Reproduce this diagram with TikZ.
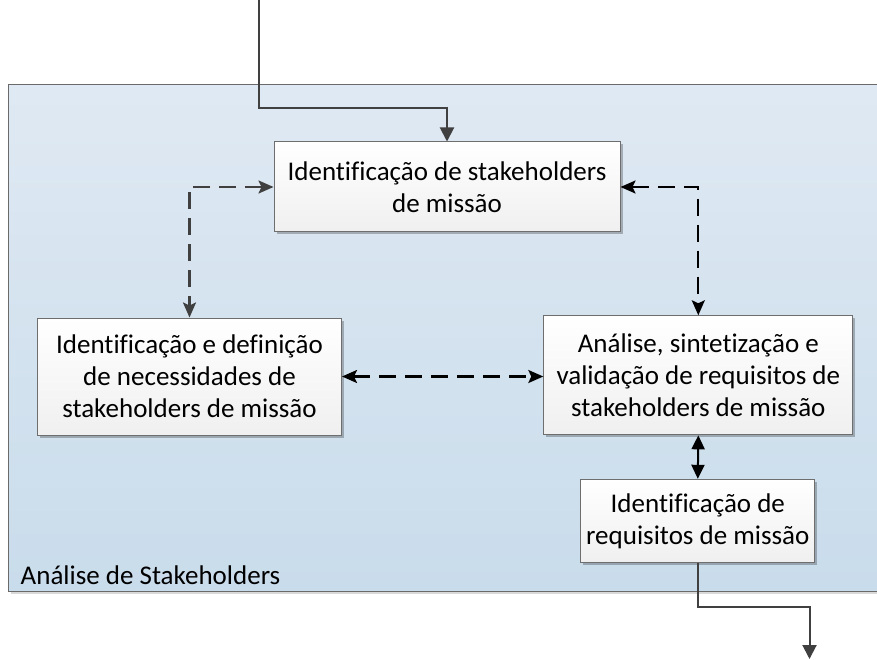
\documentclass[tikz,border=0pt]{standalone}
\usepackage{fontspec}
\setmainfont{Carlito}[Ligatures=NoCommon]
\usetikzlibrary{arrows.meta,shadows}
\definecolor{boxborder}{HTML}{6E6E6E}
\definecolor{linegray}{HTML}{404040}
\definecolor{contTop}{HTML}{DFE9F3}
\definecolor{contBot}{HTML}{C9DCEB}
\definecolor{contBorder}{HTML}{6A6A6A}
\tikzset{
  procbox/.style={draw=boxborder, line width=1pt, top color=white, bottom color=black!6,
    align=center, inner sep=2pt, font=\fontsize{27}{32}\selectfont,
    drop shadow={shadow xshift=2.5pt, shadow yshift=-2.5pt, opacity=0.25, fill=black}},
  flow/.style={draw=linegray, line width=2pt, -{Triangle[length=14pt,width=14pt]}},
  dashlink/.style={line width=2.2pt, dash pattern=on 17pt off 9pt,
    {Stealth[length=15pt,width=13pt,inset=3pt]}-{Stealth[length=15pt,width=13pt,inset=3pt]}},
  solidlink/.style={line width=2pt,
    {Triangle[length=14pt,width=13pt]}-{Triangle[length=14pt,width=13pt]}}
}
\begin{document}
\begin{tikzpicture}[x=1pt,y=-1pt]
\useasboundingbox (0,0) rectangle (877,660);
\begin{scope}
\clip (0,0) rectangle (877,660);
\fill[black, opacity=0.15] (11,88) rectangle (895,594);
\shade[top color=contTop, bottom color=contBot, draw=contBorder, line width=1pt] (8,85) rectangle (892,591);
\end{scope}
\node[anchor=west, font=\fontsize{27}{32}\selectfont, inner sep=0pt] (lbl) at (20.5,575) {Análise de Stakeholders};

\node[procbox, minimum width=346pt, minimum height=90pt] (top) at (447,187)
  {Identificação de stakeholders\\de missão};
\node[procbox, minimum width=304pt, minimum height=117pt] (left) at (189.5,376.5)
  {Identificação e definição\\de necessidades de\\stakeholders de missão};
\node[procbox, minimum width=309pt, minimum height=119pt] (right) at (698.3,375.3)
  {Análise, sintetização e\\validação de requisitos de\\stakeholders de missão};
\node[procbox, minimum width=234pt, minimum height=83pt] (bot) at (697.8,520.8)
  {Identificação de\\requisitos de missão};

\coordinate (in) at (258.5,0);
\coordinate (out) at (809.5,659);
\draw[flow] (in) -- (258.5,108) -| (top.north);
\draw[flow] (bot.south) -- (697.8,607) -| (out);

\draw[dashlink, draw=linegray] (top.west) -| (left.north);
\draw[dashlink, draw=black] (top.east) -| (right.north);
\draw[dashlink, draw=black] (left.east) -- (right.west |- left.east);
\draw[solidlink] (right.south) -- (bot.north);
\end{tikzpicture}
\end{document}
